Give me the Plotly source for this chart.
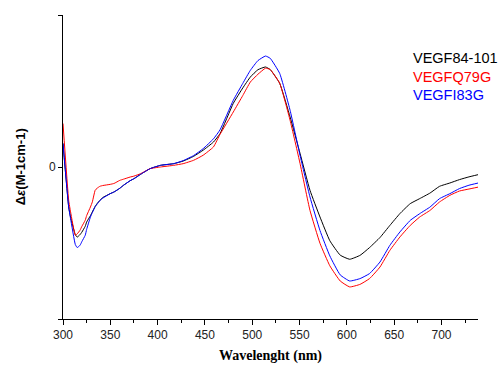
import plotly.graph_objects as go

wavelength = [300, 306, 308, 313, 315, 318, 320, 323.5, 325, 329, 331, 334, 336, 339, 342, 350,
              354, 360, 364, 371, 375, 382, 392, 403, 417, 427, 438, 448, 459, 466, 480, 490,
              498, 506, 514, 519, 529, 540, 550.5, 561, 571.6, 582, 593, 603, 614, 624, 635,
              645.5, 656, 667, 677, 688, 698, 709, 719, 729, 739]

vegf84_101 = [1.55, -2.63, -3.3, -4.45, -4.61, -4.45, -4.28, -3.9, -3.62, -3.2, -2.96, -2.6, -2.41, -2.2, -2.01, -1.75,
              -1.64, -1.4, -1.2, -0.9, -0.77, -0.48, -0.11, 0.11, 0.22, 0.39, 0.7, 1.1, 1.64, 2.2, 4.19, 5.2,
              5.92, 6.4, 6.58, 6.41, 5.51, 3.29, 0.9, -1.53, -3.29, -4.85, -5.8, -6.07, -5.81, -5.3, -4.64,
              -3.84, -3.07, -2.41, -2.08, -1.71, -1.27, -1.05, -0.83, -0.65, -0.5]

vegfq79g = [2.86, -2.2, -2.95, -4.49, -4.4, -4.16, -3.9, -3.5, -3.2, -2.63, -2.3, -1.53, -1.4, -1.27, -1.22, -1.14,
            -1.08, -0.88, -0.8, -0.66, -0.6, -0.44, -0.11, 0.0, 0.11, 0.22, 0.44, 0.77, 1.32, 2.15, 3.62, 4.7,
            5.59, 6.1, 6.5, 6.41, 5.51, 3.07, 0.24, -2.85, -5.02, -6.5, -7.5, -7.89, -7.72, -7.34, -6.58,
            -5.48, -4.61, -3.84, -3.29, -2.85, -2.3, -1.86, -1.58, -1.45, -1.32]

vegfi83g = [1.55, -2.63, -3.4, -5.1, -5.3, -5.15, -4.9, -4.49, -4.1, -3.29, -3.0, -2.6, -2.45, -2.2, -2.05, -1.75,
            -1.64, -1.4, -1.2, -0.9, -0.77, -0.48, -0.11, 0.11, 0.22, 0.42, 0.75, 1.2, 1.85, 2.45, 4.39, 5.5,
            6.36, 7.0, 7.3, 7.15, 6.16, 3.73, 0.77, -1.97, -4.18, -5.85, -7.1, -7.5, -7.34, -7.01, -6.25,
            -5.15, -4.28, -3.51, -3.07, -2.63, -2.08, -1.75, -1.42, -1.2, -1.05]

series_names = ["VEGF84-101", "VEGFQ79G", "VEGFI83G"]
series_values = [vegf84_101, vegfq79g, vegfi83g]
series_colors = ["#000000", "#ff0000", "#0000ff"]

x_tick_vals = [300, 350, 400, 450, 500, 550, 600, 650, 700]
y_tick_vals = [-10, 0, 10]
y_tick_text = ["", "0", ""]

fig = go.Figure()
for name, vals, col in zip(series_names, series_values, series_colors):
    fig.add_trace(go.Scatter(x=wavelength, y=vals, mode="lines", name=name,
                             line=dict(color=col, width=1, shape="spline", smoothing=0.4),
                             showlegend=False))

legend_y = [7.15, 5.95, 4.75]
for name, col, ly in zip(series_names, series_colors, legend_y):
    fig.add_annotation(x=667.5, y=ly, xref="x", yref="y", text=name, showarrow=False,
                       xanchor="left", yanchor="middle",
                       font=dict(family="Arial, Liberation Sans", size=14.5, color=col))

fig.add_annotation(x=-0.103, y=0.5, xref="paper", yref="paper",
                   text="<b>Δ<i>ε</i>(M-1cm-1)</b>", textangle=-90, showarrow=False,
                   xanchor="center", yanchor="middle",
                   font=dict(family="Arial, Liberation Sans", size=13, color="#000"))

fig.update_layout(
    width=500, height=367,
    margin=dict(l=63, r=22, t=15, b=48),
    paper_bgcolor="white", plot_bgcolor="white",
    showlegend=False,
    font=dict(family="Arial, Liberation Sans", size=12, color="#222"),
)
fig.update_xaxes(range=[300, 738.6], showgrid=False, zeroline=False, automargin=False,
                 showline=True, linecolor="black", linewidth=1,
                 ticks="outside", ticklen=5, tickcolor="black", tickwidth=1,
                 tickvals=x_tick_vals,
                 minor=dict(ticks="outside", ticklen=3, tickcolor="black", dtick=25, tick0=325),
                 title=dict(text="<b>Wavelenght (nm)</b>", standoff=8,
                            font=dict(family="Liberation Serif, Times New Roman", size=14, color="#000")))
fig.update_yaxes(range=[-10, 10], showgrid=False, zeroline=False, automargin=False,
                 showline=True, linecolor="black", linewidth=1,
                 ticks="outside", ticklen=4, tickcolor="black", tickwidth=1,
                 tickvals=y_tick_vals, ticktext=y_tick_text)

fig.write_html("out.html")
